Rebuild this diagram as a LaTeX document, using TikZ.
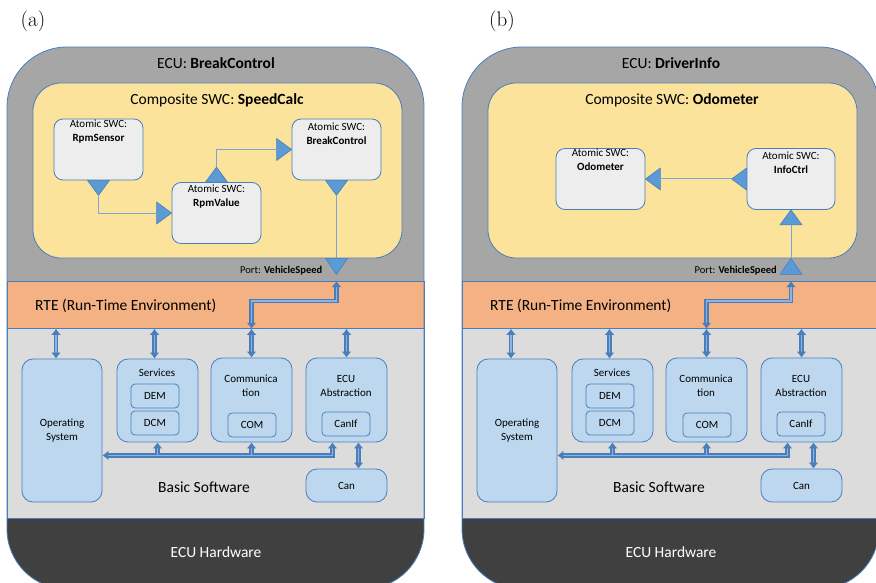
\documentclass[tikz,border=0pt]{standalone}
\usepackage{fontspec}
\newfontfamily\swcfont{Carlito}
\usetikzlibrary{arrows.meta,calc,positioning}

\definecolor{ecugray}{HTML}{A6A6A6}
\definecolor{rteorange}{HTML}{F4B183}
\definecolor{bswgray}{HTML}{DCDCDC}
\definecolor{hwgray}{HTML}{404040}
\definecolor{compyellow}{HTML}{FBE39C}
\definecolor{swcgray}{HTML}{EDEDED}
\definecolor{modblue}{HTML}{BDD7EE}
\definecolor{edgeblue}{HTML}{4A7EBB}
\definecolor{portblue}{HTML}{5B9BD5}
\definecolor{wireblue}{HTML}{7AA6D8}
\definecolor{busfill}{HTML}{8DB3E2}

\tikzset{
  bigtxt/.style={font=\swcfont\fontsize{15.5}{18}\selectfont, inner sep=0pt},
  smalltxt/.style={font=\swcfont\fontsize{11}{14}\selectfont, align=center, inner sep=0pt},
  porttxt/.style={font=\swcfont\fontsize{10.5}{12}\selectfont, inner sep=0pt},
}

\begin{document}
\begin{tikzpicture}[x=1pt, y=-1pt,
  comp/.style={draw=edgeblue, fill=compyellow, rounded corners=28, minimum width=369, minimum height=175, line width=0.8pt},
  swc/.style={draw=edgeblue, fill=swcgray, rounded corners=9, minimum width=89, minimum height=61, line width=0.8pt},
  bswbox/.style={smalltxt, draw=edgeblue, fill=modblue, rounded corners=11, minimum width=81, minimum height=84, line width=0.8pt},
  module/.style={smalltxt, draw=edgeblue, fill=modblue, rounded corners=4, minimum width=48, minimum height=24, line width=0.8pt},
  band/.style={draw=edgeblue, line width=0.8pt, minimum width=417, inner sep=0pt, anchor=north west},
  port/.style={draw=edgeblue, fill=portblue, line width=0.6pt, line join=round},
  wire/.style={draw=wireblue, line width=1pt},
  busline/.style={draw=edgeblue, line width=1.3pt, double=busfill, double distance=1.6pt},
  bus/.style={busline, {Latex[length=6pt,width=10pt]}-{Latex[length=6pt,width=10pt]}},
  feed/.style={busline, -{Latex[length=6pt,width=10pt]}},
]
\useasboundingbox (0,0) rectangle (876,583);

\node[font=\fontsize{21}{24}\selectfont, inner sep=0pt] (capa) at (33,21) {(a)};
\node[font=\fontsize{21}{24}\selectfont, inner sep=0pt] (capb) at (502,21) {(b)};

% ECU layers and basic software, same in both panels
\foreach \sx/\p/\ecu/\cmp in {0/a/BreakControl/SpeedCalc, 455/b/DriverInfo/Odometer}{
\begin{scope}[xshift=\sx]
  \begin{scope}
    \clip[rounded corners=60] (7,47) rectangle (424,589);
    \fill[ecugray] (7,47) rectangle (424,281);
    \fill[hwgray] (7,518) rectangle (424,589);
  \end{scope}
  \node[band, fill=rteorange, minimum height=47] (rte\p) at (7,281) {};
  \node[band, fill=bswgray, minimum height=190] (bsw\p) at (7,328) {};
  \draw[edgeblue, line width=0.8pt, rounded corners=60] (7,47) rectangle (424,589);

  \node[bigtxt] (ecu\p) at (216,63) {ECU: \textbf{\ecu}};
  \node[comp] (comp\p) at (217.5,170.5) {};
  \node[bigtxt] (cmp\p) at (217,100) {Composite SWC: \textbf{\cmp}};
  \node[bigtxt, anchor=west] (rtet\p) at (35,306) {RTE (Run-Time Environment)};

  \node[bswbox, minimum width=80, minimum height=143] (os\p) at (62,430.5) {Operating\\System};
  \node[bswbox, minimum height=83] (sv\p) at (157.5,400.5) {};
  \node[smalltxt] (svt\p) at (157,373) {Services};
  \node[module] (dem\p) at (155,396) {DEM};
  \node[module] (dcm\p) at (155,423) {DCM};
  \node[bswbox] (cm\p) at (251.5,400) {};
  \node[smalltxt] (cmt\p) at (251,386) {Communica\\tion};
  \node[module] (com\p) at (252,425) {COM};
  \node[bswbox] (ea\p) at (346.5,400) {};
  \node[smalltxt] (eat\p) at (346,386) {ECU\\Abstraction};
  \node[module] (canif\p) at (346,424) {CanIf};
  \node[bswbox, minimum height=33] (can\p) at (346.5,485.5) {Can};
  \node[bigtxt] (bswt\p) at (204,487) {Basic Software};
  \node[bigtxt, text=white] (hw\p) at (216,552) {ECU Hardware};

  \draw[bus] ($(os\p.north)+(-6,0)$) coordinate (ost\p) -- (ost\p |- rte\p.south);
  \draw[bus] ($(sv\p.north)+(-3,0)$) coordinate (svn\p) -- (svn\p |- rte\p.south);
  \draw[bus] (cm\p.north) -- (cm\p.north |- rte\p.south);
  \draw[bus] (ea\p.north) -- (ea\p.north |- rte\p.south);
  \draw[bus] ($(ea\p.south)+(-14,0)$) -- ++(0,13) coordinate (bj\p) -- (bj\p -| os\p.east);
  \draw[feed] (sv\p.south |- bj\p) -- (sv\p.south);
  \draw[feed] (cm\p.south |- bj\p) -- (cm\p.south);
  \draw[bus] ($(ea\p.south)+(12,0)$) coordinate (cnt\p) -- (cnt\p |- can\p.north);
\end{scope}
}

% (a) SpeedCalc
\node[swc] (rs) at (98.5,149.5) {};
\node[smalltxt, below=1pt of rs.north] (rstxt) {Atomic SWC:\\\textbf{RpmSensor}};
\node[swc] (rv) at (216.5,213) {};
\node[smalltxt, below=3pt of rv.north] (rvtxt) {Atomic SWC:\\\textbf{RpmValue}};
\node[swc] (bc) at (336.5,149.5) {};
\node[smalltxt, below=4pt of bc.north] (bctxt) {Atomic SWC:\\\textbf{BreakControl}};

\filldraw[port] (rs.south) ++(-11,0) -- ++(22,0) -- ++(-11,15) coordinate (rsout) -- cycle;
\filldraw[port] (rv.west) ++(-15,0) coordinate (rvin) ++(0,-11) -- ++(15,11) -- ++(-15,11) -- cycle;
\filldraw[port] (rv.north) ++(-11,0) -- ++(22,0) -- ++(-11,-15) coordinate (rvout) -- cycle;
\filldraw[port] (bc.west) ++(-15,0) coordinate (bcin) ++(0,-11) -- ++(15,11) -- ++(-15,11) -- cycle;
\filldraw[port] (bc.south) ++(-11,0) -- ++(22,0) -- ++(-11,15) coordinate (bcout) -- cycle;
\filldraw[port] (bc.south |- compa.south) ++(-11,0) -- ++(22,0) -- ++(-11,16) coordinate (porta) -- cycle;

\draw[wire] (rsout) |- (rvin);
\draw[wire] (rvout) |- (bcin);
\draw[wire] (bcout) -- (bcout |- compa.south);
\node[porttxt, anchor=east] (plbla) at ($(porta)+(-14,-4)$) {Port: \textbf{VehicleSpeed}};
\draw[bus] (porta |- rtea.north) -- ++(0,20) -| (cma.north |- rtea.south);

% (b) Odometer
\node[swc] (od) at (600.5,179) {};
\node[smalltxt, below=1pt of od.north] (odtxt) {Atomic SWC:\\\textbf{Odometer}};
\node[swc, minimum width=88] (ic) at (791,179) {};
\node[smalltxt, below=4pt of ic.north] (ictxt) {Atomic SWC:\\\textbf{InfoCtrl}};

\filldraw[port] (od.east) ++(15,0) coordinate (odin) ++(0,-11) -- ++(-15,11) -- ++(15,11) -- cycle;
\filldraw[port] (ic.west) ++(0,-11) -- ++(-15,11) coordinate (icout) -- ++(15,11) -- cycle;
\filldraw[port] (ic.south) ++(0,15) coordinate (icin) ++(-11,0) -- ++(22,0) -- ++(-11,-15) -- cycle;
\filldraw[port] (ic.south |- compb.south) ++(0,16) coordinate (portb) ++(-11,0) -- ++(22,0) -- ++(-11,-16) -- cycle;

\draw[wire] (odin) -- (icout);
\draw[wire] (icin) -- (ic.south |- compb.south);
\node[porttxt, anchor=east] (plblb) at ($(portb)+(-14,-4)$) {Port: \textbf{VehicleSpeed}};
\draw[bus] (portb |- rteb.north) -- ++(0,20) -| (cmb.north |- rteb.south);
\end{tikzpicture}
\end{document}
